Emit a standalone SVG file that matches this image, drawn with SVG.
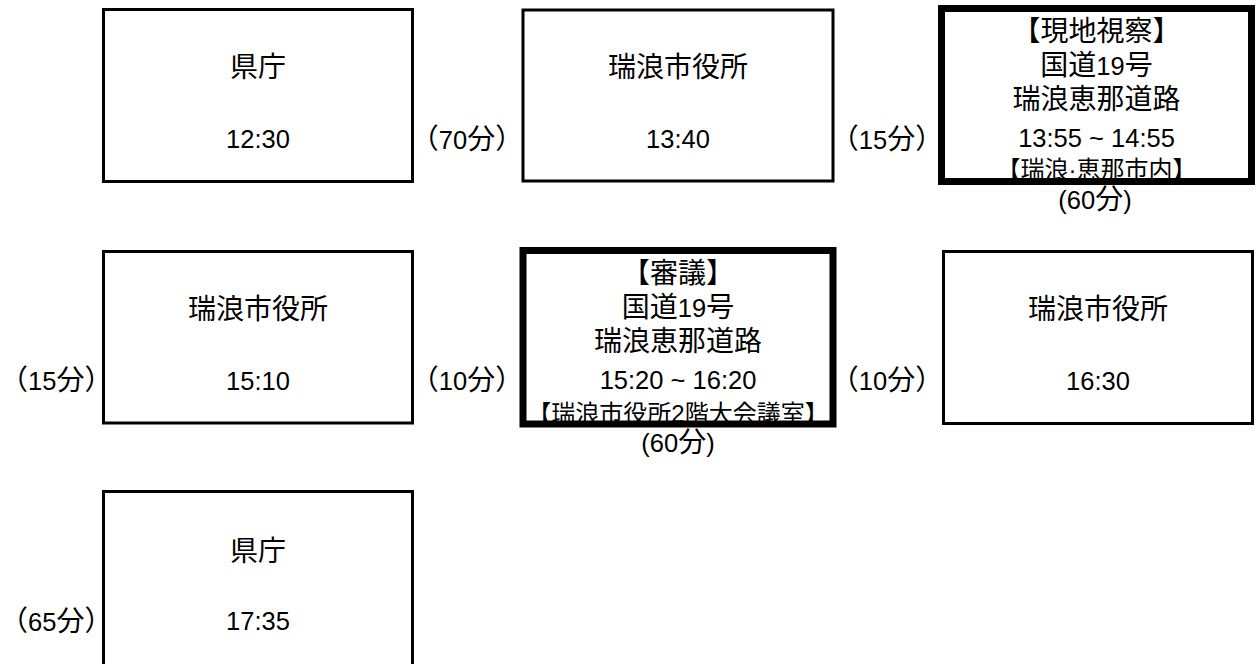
<svg xmlns="http://www.w3.org/2000/svg" width="1256" height="664" viewBox="0 0 1256 664">
<style>
text{font-family:"Liberation Sans","Noto Sans CJK JP",sans-serif;font-size:28px;text-anchor:middle;fill:#000}
.n{font-size:25.5px}
.s{font-size:24px}
.l{text-anchor:start}
.box{fill:none;stroke:#000;stroke-width:3}
.bold{fill:none;stroke:#000;stroke-width:7}
</style>
<rect width="1256" height="664" fill="#fff"/>
<g id="node1">
<text x="258" y="77">県庁</text>
<text class="n" x="258" y="148">12:30</text>
<rect class="box" x="103.5" y="9.5" width="309" height="172"/>
</g>
<g id="node2">
<text x="678" y="77">瑞浪市役所</text>
<text class="n" x="678" y="148">13:40</text>
<rect class="box" x="523" y="10" width="310" height="171"/>
</g>
<g id="node3">
<text x="1096.5" y="41">【現地視察】</text>
<text x="1096.5" y="75">国道<tspan class="n">19</tspan>号</text>
<text x="1096.5" y="109">瑞浪恵那道路</text>
<text class="n" x="1096.5" y="147">13:55 ~ 14:55</text>
<text class="s" x="1096.5" y="178">【瑞浪·恵那市内】</text>
<rect class="bold" x="941.5" y="8.5" width="310" height="173"/>
</g>
<g id="node4">
<text x="258" y="319">瑞浪市役所</text>
<text class="n" x="258" y="390">15:10</text>
<rect class="box" x="103.5" y="251.5" width="309" height="171.5"/>
</g>
<g id="node5">
<text x="678" y="283">【審議】</text>
<text x="678" y="317">国道<tspan class="n">19</tspan>号</text>
<text x="678" y="351">瑞浪恵那道路</text>
<text class="n" x="678" y="389">15:20 ~ 16:20</text>
<text class="s" x="678" y="422">【瑞浪市役所2階大会議室】</text>
<rect class="bold" x="523" y="250.5" width="310" height="173.5"/>
</g>
<g id="node6">
<text x="1098" y="319">瑞浪市役所</text>
<text class="n" x="1098" y="390">16:30</text>
<rect class="box" x="943.5" y="251.5" width="309" height="172"/>
</g>
<g id="node7">
<text x="258" y="561">県庁</text>
<text class="n" x="258" y="630">17:35</text>
<rect class="box" x="103.5" y="491.5" width="309" height="180"/>
</g>
<g id="connectors">
<text x="467" y="149">（<tspan class="n">70</tspan>分）</text>
<text x="887" y="149">（<tspan class="n">15</tspan>分）</text>
<text x="1095" y="209"><tspan class="n">(60</tspan>分<tspan class="n">)</tspan></text>
<text class="l" x="0" y="390">（<tspan class="n">15</tspan>分）</text>
<text x="467" y="390">（<tspan class="n">10</tspan>分）</text>
<text x="887" y="390">（<tspan class="n">10</tspan>分）</text>
<text x="678" y="452"><tspan class="n">(60</tspan>分<tspan class="n">)</tspan></text>
<text class="l" x="0" y="631">（<tspan class="n">65</tspan>分）</text>
</g>
</svg>
